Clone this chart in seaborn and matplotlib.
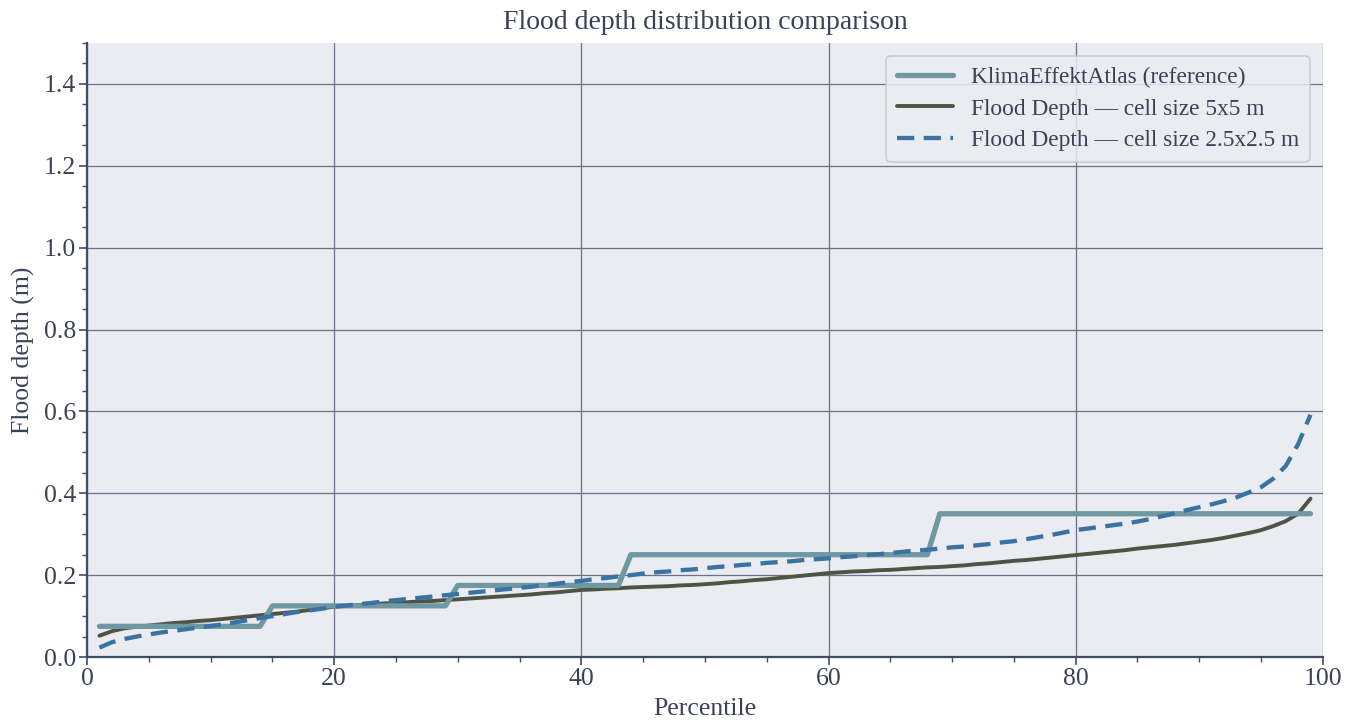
import numpy as np
import pandas as pd
import matplotlib
matplotlib.use("Agg")
import matplotlib.pyplot as plt
from matplotlib.ticker import MultipleLocator, FormatStrFormatter
import seaborn as sns

# Percentiles 1..99
percentiles = list(range(1, 100))

# KlimaEffektAtlas reference: class levels and how many percentiles fall in each
ref_levels = [0.075, 0.125, 0.175, 0.25, 0.35]
ref_counts = [14, 15, 14, 25, 31]

depth_5m = [
    0.052, 0.063, 0.070, 0.074, 0.077, 0.080, 0.083, 0.085, 0.088, 0.090,
    0.093, 0.096, 0.099, 0.102, 0.105, 0.108, 0.111, 0.115, 0.119, 0.123,
    0.125, 0.127, 0.129, 0.131, 0.132, 0.134, 0.136, 0.137, 0.139, 0.141,
    0.143, 0.145, 0.147, 0.149, 0.151, 0.153, 0.156, 0.158, 0.161, 0.164,
    0.165, 0.167, 0.168, 0.170, 0.171, 0.172, 0.173, 0.175, 0.176, 0.178,
    0.180, 0.183, 0.185, 0.188, 0.190, 0.193, 0.196, 0.199, 0.202, 0.205,
    0.207, 0.209, 0.210, 0.212, 0.213, 0.215, 0.217, 0.219, 0.220, 0.222,
    0.224, 0.227, 0.229, 0.232, 0.235, 0.237, 0.240, 0.243, 0.246, 0.249,
    0.252, 0.255, 0.258, 0.261, 0.265, 0.268, 0.271, 0.274, 0.278, 0.282,
    0.286, 0.291, 0.297, 0.303, 0.310, 0.320, 0.332, 0.350, 0.387,
]

depth_2_5m = [
    0.023, 0.036, 0.044, 0.050, 0.055, 0.060, 0.064, 0.068, 0.072, 0.076,
    0.080, 0.085, 0.090, 0.095, 0.100, 0.105, 0.110, 0.114, 0.118, 0.123,
    0.126, 0.129, 0.132, 0.136, 0.139, 0.142, 0.145, 0.148, 0.151, 0.154,
    0.157, 0.160, 0.163, 0.166, 0.169, 0.172, 0.176, 0.179, 0.183, 0.186,
    0.190, 0.193, 0.197, 0.200, 0.204, 0.207, 0.209, 0.212, 0.214, 0.217,
    0.220, 0.222, 0.225, 0.227, 0.230, 0.232, 0.234, 0.237, 0.239, 0.241,
    0.244, 0.246, 0.249, 0.251, 0.254, 0.257, 0.260, 0.262, 0.265, 0.268,
    0.270, 0.273, 0.276, 0.280, 0.283, 0.288, 0.293, 0.298, 0.304, 0.310,
    0.314, 0.318, 0.322, 0.326, 0.331, 0.337, 0.344, 0.351, 0.359, 0.366,
    0.373, 0.381, 0.390, 0.402, 0.415, 0.436, 0.467, 0.520, 0.592,
]

labels = [
    "KlimaEffektAtlas (reference)",
    "Flood Depth \u2014 cell size 5x5 m",
    "Flood Depth \u2014 cell size 2.5x2.5 m",
]

ref_depth = np.repeat(ref_levels, ref_counts)

df = pd.concat([
    pd.DataFrame({"Percentile": percentiles, "Depth": ref_depth, "Source": labels[0]}),
    pd.DataFrame({"Percentile": percentiles, "Depth": depth_5m, "Source": labels[1]}),
    pd.DataFrame({"Percentile": percentiles, "Depth": depth_2_5m, "Source": labels[2]}),
])

text_color = "#3b4256"
bg_color = "#eaecf2"
grid_color = "#6b7288"
spine_color = "#3f4b68"

sns.set_theme(style="darkgrid")
plt.rcParams["font.family"] = ["Liberation Serif", "DejaVu Serif"]
plt.rcParams.update({
    "axes.facecolor": bg_color,
    "figure.facecolor": "white",
    "text.color": text_color,
    "axes.labelcolor": text_color,
    "xtick.color": text_color,
    "ytick.color": text_color,
})

fig = plt.figure(figsize=(13.54, 7.24), dpi=100)
ax = fig.add_axes([0.0643, 0.0925, 0.9127, 0.8481])

palette = {labels[0]: "#6f98a3", labels[1]: "#4f5344", labels[2]: "#3a73a2"}
widths = {labels[0]: 3.8, labels[1]: 2.8, labels[2]: 3.1}
zorders = {labels[0]: 3, labels[1]: 2, labels[2]: 4}

for lab in labels:
    sub = df[df["Source"] == lab]
    sns.lineplot(data=sub, x="Percentile", y="Depth", ax=ax, color=palette[lab],
                 linewidth=widths[lab], label=lab, zorder=zorders[lab])
    if lab == labels[2]:
        ax.lines[-1].set_dashes((4, 2.2))

ax.set_xlim(0, 100)
ax.set_ylim(0, 1.5)
ax.xaxis.set_major_locator(MultipleLocator(20))
ax.xaxis.set_minor_locator(MultipleLocator(5))
ax.yaxis.set_major_locator(MultipleLocator(0.2))
ax.yaxis.set_minor_locator(MultipleLocator(0.05))
ax.yaxis.set_major_formatter(FormatStrFormatter("%.1f"))

ax.grid(True, which="major", color=grid_color, linewidth=0.9)
ax.grid(False, which="minor")
for side in ["top", "right"]:
    ax.spines[side].set_visible(False)
for side in ["left", "bottom"]:
    ax.spines[side].set_visible(True)
    ax.spines[side].set_color(spine_color)
    ax.spines[side].set_linewidth(1.6)

ax.tick_params(axis="both", which="major", direction="out", length=6, width=1.2,
               color=spine_color, labelsize=18.5, pad=2, bottom=True, left=True)
ax.tick_params(axis="both", which="minor", direction="out", length=3.5, width=1.0,
               color=spine_color, bottom=True, left=True)

ax.set_xlabel("Percentile", fontsize=18.5, labelpad=6)
ax.set_ylabel("Flood depth (m)", fontsize=18.5, labelpad=6)
ax.set_title("Flood depth distribution comparison", fontsize=20, pad=10, color=text_color)

leg = ax.legend(loc="upper right", fontsize=16.8, frameon=True, borderpad=0.45,
                handlelength=2.4, labelspacing=0.45, borderaxespad=0.55,
                bbox_to_anchor=(1.0, 1.0))
leg.get_frame().set_facecolor(bg_color)
leg.get_frame().set_edgecolor("#c4c8d2")
leg.get_frame().set_linewidth(1.2)
leg.get_frame().set_alpha(0.85)
for t in leg.get_texts():
    t.set_color(text_color)

fig.savefig("out.png", dpi=100)
